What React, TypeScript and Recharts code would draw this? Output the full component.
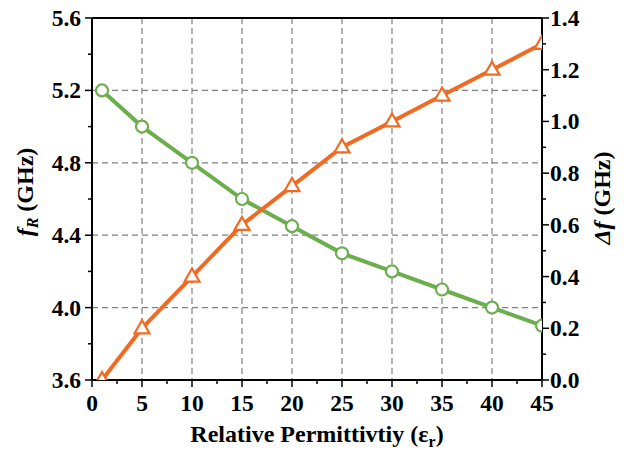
import React from "react";
import {
  CartesianGrid,
  Line,
  LineChart,
  ReferenceLine,
  XAxis,
  YAxis,
} from "recharts";

const permittivity = [1, 5, 10, 15, 20, 25, 30, 35, 40, 45];
const resonantFreq = [5.2, 5.0, 4.8, 4.6, 4.45, 4.3, 4.2, 4.1, 4.0, 3.9];
const freqShift = [0.0, 0.2, 0.4, 0.6, 0.75, 0.9, 1.0, 1.1, 1.2, 1.3];

const xMajor = [0, 5, 10, 15, 20, 25, 30, 35, 40, 45];
const xMinor = [2.5, 7.5, 12.5, 17.5, 22.5, 27.5, 32.5, 37.5, 42.5];
const leftMajor = [3.6, 4.0, 4.4, 4.8, 5.2, 5.6];
const leftMinor = [3.8, 4.2, 4.6, 5.0, 5.4];
const rightMajor = [0.0, 0.2, 0.4, 0.6, 0.8, 1.0, 1.2, 1.4];
const rightMinor = [0.1, 0.3, 0.5, 0.7, 0.9, 1.1, 1.3];
const gridX = [5, 10, 15, 20, 25, 30, 35, 40];
const gridY = [4.0, 4.4, 4.8, 5.2];

const data = permittivity.map((x, i) => ({
  x,
  fr: resonantFreq[i],
  df: freqShift[i],
}));

const FONT = '"Liberation Serif", "Times New Roman", serif';
const GREEN = "#6CAE4E";
const ORANGE = "#F26A22";
const AXIS = "#000";

const isMajor = (list: number[], v: number) =>
  list.some((m) => Math.abs(m - v) < 1e-6);

function XTick({ x, y, payload }: any) {
  const major = isMajor(xMajor, payload.value);
  return (
    <g>
      <line x1={x} x2={x} y1={y} y2={y + (major ? 7 : 4)} stroke={AXIS} strokeWidth={1.5} />
      {major && (
        <text x={x} y={y + 31} textAnchor="middle" fontFamily={FONT} fontWeight="bold" fontSize={23.5} fill="#000">
          {payload.value}
        </text>
      )}
    </g>
  );
}

function LeftTick({ x, y, payload }: any) {
  const major = isMajor(leftMajor, payload.value);
  return (
    <g>
      <line x1={x} x2={x - (major ? 7 : 4)} y1={y} y2={y} stroke={AXIS} strokeWidth={1.5} />
      {major && (
        <text x={x - 11} y={y + 8} textAnchor="end" fontFamily={FONT} fontWeight="bold" fontSize={23.5} fill="#000">
          {payload.value.toFixed(1)}
        </text>
      )}
    </g>
  );
}

function RightTick({ x, y, payload }: any) {
  const major = isMajor(rightMajor, payload.value);
  return (
    <g>
      <line x1={x} x2={x + (major ? 7 : 4)} y1={y} y2={y} stroke={AXIS} strokeWidth={1.5} />
      {major && (
        <text x={x + 8} y={y + 8} textAnchor="start" fontFamily={FONT} fontWeight="bold" fontSize={23.5} fill="#000">
          {payload.value.toFixed(1)}
        </text>
      )}
    </g>
  );
}

function Triangle({ cx, cy }: any) {
  if (cx == null || cy == null) return null;
  const pts = `${cx},${cy - 8} ${cx - 7.5},${cy + 5} ${cx + 7.5},${cy + 5}`;
  return (
    <polygon points={pts} fill="#fff" stroke={ORANGE} strokeWidth={2.2} strokeLinejoin="miter" />
  );
}

function XTitle() {
  return (
    <text x={317} y={442} textAnchor="middle" fontFamily={FONT} fontWeight="bold" fontSize={24} fill="#000">
      Relative Permittivtiy (ε
      <tspan fontSize={16} dy={5}>r</tspan>
      <tspan dy={-5}>)</tspan>
    </text>
  );
}

function LeftTitle() {
  return (
    <text
      x={33}
      y={192}
      transform="rotate(-90, 33, 192)"
      textAnchor="middle"
      fontFamily={FONT}
      fontWeight="bold"
      fontSize={24}
      fill="#000"
    >
      <tspan fontStyle="italic">f</tspan>
      <tspan fontStyle="italic" fontSize={16} dy={5}>R</tspan>
      <tspan dy={-5}> (GHz)</tspan>
    </text>
  );
}

function RightTitle() {
  return (
    <text
      x={610}
      y={198}
      transform="rotate(-90, 610, 198)"
      textAnchor="middle"
      fontFamily={FONT}
      fontWeight="bold"
      fontSize={24}
      fill="#000"
    >
      <tspan fontStyle="italic">Δf</tspan>
      <tspan> (GHz)</tspan>
    </text>
  );
}

export default function App() {
  return (
    <div style={{ position: "absolute", left: 0, top: 0, background: "#fff" }}>
      <LineChart
        width={624}
        height={450}
        data={data}
        margin={{ top: 18, right: 22, bottom: 30, left: 32 }}
      >
        <CartesianGrid
          yAxisId="left"
          stroke="#808080"
          strokeDasharray="6 4"
          strokeWidth={1.2}
          horizontalValues={gridY}
          verticalValues={gridX}
        />
        <XAxis
          dataKey="x"
          type="number"
          domain={[0, 45]}
          ticks={[...xMajor, ...xMinor]}
          interval={0}
          allowDataOverflow
          height={40}
          tickSize={0}
          tickMargin={0}
          tickLine={false}
          tick={<XTick />}
          axisLine={{ stroke: AXIS, strokeWidth: 2 }}
          label={<XTitle />}
        />
        <YAxis
          yAxisId="left"
          orientation="left"
          type="number"
          domain={[3.6, 5.6]}
          ticks={[...leftMajor, ...leftMinor]}
          interval={0}
          allowDataOverflow
          width={60}
          tickSize={0}
          tickMargin={0}
          tickLine={false}
          tick={<LeftTick />}
          axisLine={{ stroke: AXIS, strokeWidth: 2 }}
          label={<LeftTitle />}
        />
        <YAxis
          yAxisId="right"
          orientation="right"
          type="number"
          domain={[0, 1.4]}
          ticks={[...rightMajor, ...rightMinor]}
          interval={0}
          allowDataOverflow
          width={60}
          tickSize={0}
          tickMargin={0}
          tickLine={false}
          tick={<RightTick />}
          axisLine={{ stroke: AXIS, strokeWidth: 2 }}
          label={<RightTitle />}
        />
        <ReferenceLine yAxisId="left" y={5.6} stroke={AXIS} strokeWidth={2} />
        <Line
          yAxisId="left"
          dataKey="fr"
          type="linear"
          stroke={GREEN}
          strokeWidth={4}
          dot={{ r: 6, fill: "#fff", stroke: GREEN, strokeWidth: 2.2 }}
          activeDot={false}
          isAnimationActive={false}
        />
        <Line
          yAxisId="right"
          dataKey="df"
          type="linear"
          stroke={ORANGE}
          strokeWidth={4}
          dot={<Triangle />}
          activeDot={false}
          isAnimationActive={false}
        />
      </LineChart>
    </div>
  );
}
